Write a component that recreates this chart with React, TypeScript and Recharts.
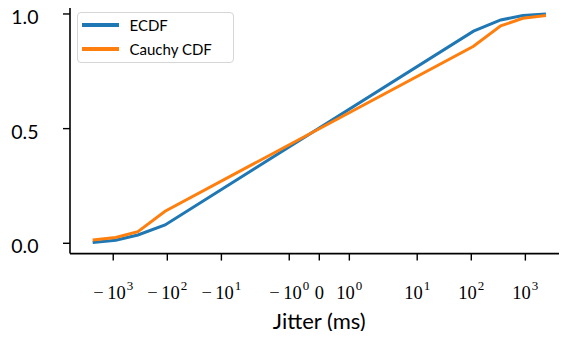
import { LineChart, Line, XAxis, YAxis, Legend } from "recharts";

// jitter sample points (ms) and CDF values
const jitterMs = [-2400, -900, -350, -110, 110, 350, 900, 2400];
const ecdf = [0.003, 0.013, 0.036, 0.08, 0.925, 0.974, 0.993, 1.0];
const cauchyCdf = [0.014, 0.025, 0.051, 0.14, 0.859, 0.948, 0.981, 0.993];

const xTickValues = [-1000, -100, -10, -1, 0, 1, 10, 100, 1000];
const xTickBases = ["−", "−", "−", "−", "", "", "", "", ""];
const xTickMantissa = ["10", "10", "10", "10", "0", "10", "10", "10", "10"];
const xTickExps = ["3", "2", "1", "0", "", "0", "1", "2", "3"];
const yTickValues = [0, 0.5, 1.0];
const yTickLabels = ["0.0", "0.5", "1.0"];

const BLUE = "#1f77b4";
const ORANGE = "#ff7f0e";
const SANS = "Lato, 'Noto Sans', sans-serif";
const SERIF = "'Liberation Serif', serif";

// matplotlib symlog (base 10, linthresh 2, linscale 1)
const LINTHRESH = 2;
const LINSCALE_ADJ = 1 / (1 - 1 / 10);
function symlog(v: number): number {
  const a = Math.abs(v);
  if (a <= LINTHRESH) return v * LINSCALE_ADJ;
  return Math.sign(v) * LINTHRESH * (LINSCALE_ADJ + Math.log10(a / LINTHRESH));
}

const data = jitterMs.map((ms, i) => ({
  u: symlog(ms),
  ecdf: ecdf[i],
  cauchy: cauchyCdf[i],
}));

const uMax = symlog(jitterMs[jitterMs.length - 1]);
const uMin = symlog(jitterMs[0]);
const uPad = (uMax - uMin) * 0.05;

// eslint-disable-next-line @typescript-eslint/no-explicit-any
function XTick({ x, y, payload }: any) {
  const i = xTickValues.findIndex((v) => Math.abs(symlog(v) - payload.value) < 1e-6);
  if (i < 0) return null;
  return (
    <text x={x} y={y + 36} textAnchor="middle" fontFamily={SERIF} fontSize={18.5} fill="#000">
      {xTickBases[i] && <tspan>{xTickBases[i]}</tspan>}
      <tspan dx={xTickBases[i] ? 3.5 : 0}>{xTickMantissa[i]}</tspan>
      {xTickExps[i] && (
        <tspan dx={1} dy={-8.5} fontSize={13}>
          {xTickExps[i]}
        </tspan>
      )}
    </text>
  );
}

// eslint-disable-next-line @typescript-eslint/no-explicit-any
function YTick({ y, payload }: any) {
  const i = yTickValues.indexOf(payload.value);
  return (
    <text x={38.5} y={y + 10} textAnchor="end" fontFamily={SANS} fontSize={19.5} fill="#000">
      {yTickLabels[i]}
    </text>
  );
}

function LegendBox() {
  const rows = [
    { name: "ECDF", color: BLUE },
    { name: "Cauchy CDF", color: ORANGE },
  ];
  return (
    <div
      style={{
        width: 155,
        height: 49,
        border: "1.5px solid #d6d6d6",
        borderRadius: 4,
        background: "rgba(255,255,255,0.8)",
        fontFamily: SANS,
        fontSize: 15,
        color: "#000",
        boxSizing: "content-box",
      }}
    >
      {rows.map((r, k) => (
        <div
          key={r.name}
          style={{ position: "absolute", left: 5, top: 4 + k * 24, display: "flex", alignItems: "center", height: 18 }}
        >
          <div style={{ width: 37, height: 3.5, background: r.color }} />
          <span style={{ marginLeft: 10.5, lineHeight: "18px" }}>{r.name}</span>
        </div>
      ))}
    </div>
  );
}

export default function App() {
  return (
    <div style={{ margin: -8, width: 567, height: 339, overflow: "hidden", position: "relative", background: "#fff" }}>
      <LineChart width={572} height={339} data={data} margin={{ top: 2.5, right: 3.4, left: 0, bottom: 0 }}>
        <XAxis
          dataKey="u"
          type="number"
          domain={[uMin - uPad, uMax + uPad]}
          ticks={xTickValues.map(symlog)}
          interval={0}
          allowDataOverflow
          height={85.4}
          tick={<XTick />}
          tickSize={7}
          axisLine={{ stroke: "#000", strokeWidth: 1.6 }}
          tickLine={{ stroke: "#000", strokeWidth: 1.4 }}
          label={{
            value: "Jitter (ms)",
            position: "insideBottom",
            offset: 10.5,
            fontFamily: SANS,
            fontSize: 22,
            fill: "#000",
          }}
        />
        <YAxis
          type="number"
          domain={[-0.045, 1.05]}
          ticks={yTickValues}
          interval={0}
          allowDataOverflow
          width={70}
          tick={<YTick />}
          tickSize={7}
          axisLine={{ stroke: "#000", strokeWidth: 1.6 }}
          tickLine={{ stroke: "#000", strokeWidth: 1.4 }}
        />
        <Legend
          layout="vertical"
          align="center"
          verticalAlign="middle"
          content={<LegendBox />}
          wrapperStyle={{ left: 77, top: 12, width: 158, height: 52 }}
        />
        <Line
          type="linear"
          dataKey="ecdf"
          name="ECDF"
          stroke={BLUE}
          strokeWidth={3}
          dot={false}
          isAnimationActive={false}
        />
        <Line
          type="linear"
          dataKey="cauchy"
          name="Cauchy CDF"
          stroke={ORANGE}
          strokeWidth={3}
          dot={false}
          isAnimationActive={false}
        />
      </LineChart>
    </div>
  );
}
